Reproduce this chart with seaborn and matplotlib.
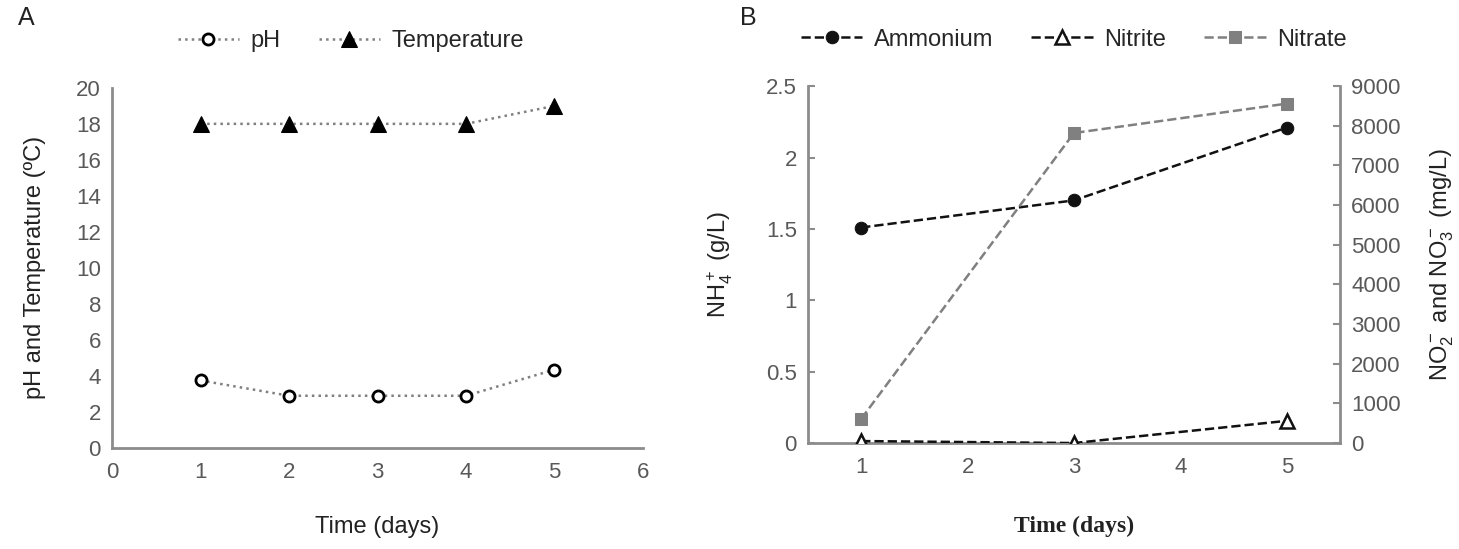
import numpy as np
import pandas as pd
import matplotlib.pyplot as plt
import seaborn as sns

# panel A data
days_a = [1, 2, 3, 4, 5]
ph = [3.75, 2.9, 2.9, 2.9, 4.35]
temperature = [18, 18, 18, 18, 19]

# panel B data
days_b = [1, 3, 5]
ammonium = [1.51, 1.70, 2.21]      # g/L
nitrite = [50, 0, 560]             # mg/L
nitrate = [610, 7820, 8560]        # mg/L

sns.set_style("white")
plt.rcParams['font.family'] = ['Liberation Sans', 'DejaVu Sans']
plt.rcParams['mathtext.default'] = 'regular'

axis_gray = "#8c8c8c"
tick_gray = "#595959"

fig = plt.figure(figsize=(14.59, 5.49), dpi=100)
axA = fig.add_axes([0.0768, 0.184, 0.3639, 0.656])
axB = fig.add_axes([0.5538, 0.193, 0.3646, 0.650])
axB2 = axB.twinx()

dfA = pd.DataFrame({"day": days_a, "pH": ph, "Temperature": temperature})
sns.lineplot(data=dfA, x="day", y="pH", ax=axA, color="#808080", linestyle=":", lw=1.8,
             marker="o", markersize=8, markerfacecolor="white", markeredgecolor="black",
             markeredgewidth=2, label="pH")
sns.lineplot(data=dfA, x="day", y="Temperature", ax=axA, color="#808080", linestyle=":", lw=1.8,
             marker="^", markersize=11, markerfacecolor="black", markeredgecolor="black",
             label="Temperature")

axA.set_xlim(0, 6)
axA.set_ylim(0, 20)
axA.set_xticks(range(0, 7))
axA.set_yticks(range(0, 21, 2))
axA.set_xlabel("Time (days)", fontsize=17, labelpad=24, color="#222222")
axA.set_ylabel("pH and Temperature (ºC)", fontsize=17, color="#222222", labelpad=22)
axA.legend(loc="lower center", bbox_to_anchor=(0.45, 1.04), ncol=2, frameon=False,
           fontsize=17, handlelength=2.6, columnspacing=1.6, handletextpad=0.5)

dfB = pd.DataFrame({"day": days_b, "Ammonium": ammonium, "Nitrite": nitrite, "Nitrate": nitrate})
sns.lineplot(data=dfB, x="day", y="Ammonium", ax=axB, color="#111111", linestyle="--", lw=1.8,
             marker="o", markersize=9, markeredgecolor="#111111", label="Ammonium", legend=False)
sns.lineplot(data=dfB, x="day", y="Nitrite", ax=axB2, color="#111111", linestyle="--", lw=1.8,
             marker="^", markersize=10, markerfacecolor="white", markeredgecolor="#111111",
             markeredgewidth=1.8, label="Nitrite", legend=False)
sns.lineplot(data=dfB, x="day", y="Nitrate", ax=axB2, color="#808080", linestyle="--", lw=1.8,
             marker="s", markersize=9, markeredgecolor="#808080", label="Nitrate", legend=False)

axB.set_xlim(0.5, 5.5)
axB.set_ylim(0, 2.5)
axB2.set_ylim(0, 9000)
axB.set_xticks([1, 2, 3, 4, 5])
axB.set_xticks([1.5, 2.5, 3.5, 4.5], minor=True)
axB.set_yticks([0, 0.5, 1, 1.5, 2, 2.5])
axB.set_yticklabels(["0", "0.5", "1", "1.5", "2", "2.5"])
axB2.set_yticks(range(0, 9001, 1000))
axB.set_xlabel("Time (days)", fontsize=17, labelpad=27, family="Liberation Serif",
               fontweight="bold", color="#222222")
axB.set_ylabel("NH$_4^+$ (g/L)", fontsize=17, color="#222222", labelpad=22)
axB2.set_ylabel("NO$_2^-$ and NO$_3^-$ (mg/L)", fontsize=17, color="#222222", labelpad=20)

h1, l1 = axB.get_legend_handles_labels()
h2, l2 = axB2.get_legend_handles_labels()
axB.legend(h1 + h2, l1 + l2, loc="lower center", bbox_to_anchor=(0.5, 1.04), ncol=3,
           frameon=False, fontsize=17, handlelength=2.6, columnspacing=1.6, handletextpad=0.5)

for ax in [axA, axB, axB2]:
    for s in ax.spines.values():
        s.set_color(axis_gray)
        s.set_linewidth(2)
    ax.spines["top"].set_visible(False)
    ax.tick_params(direction="in", colors=axis_gray, labelcolor=tick_gray, labelsize=16,
                   length=5, width=1.5)
    ax.tick_params(which="minor", direction="in", colors=axis_gray, length=5, width=1.5)
axA.spines["right"].set_visible(False)
axB.spines["right"].set_visible(False)
axB2.spines["left"].set_visible(False)
axB2.spines["bottom"].set_visible(False)
axB.tick_params(axis="x", pad=10)
axA.tick_params(axis="x", pad=10)
axA.tick_params(axis="y", pad=8)
axB.tick_params(axis="y", pad=8)
axB2.tick_params(axis="y", pad=8)

fig.text(0.012, 0.955, "A", fontsize=18, color="#222222")
fig.text(0.507, 0.955, "B", fontsize=18, color="#222222")

fig.savefig("out.png", dpi=100)
